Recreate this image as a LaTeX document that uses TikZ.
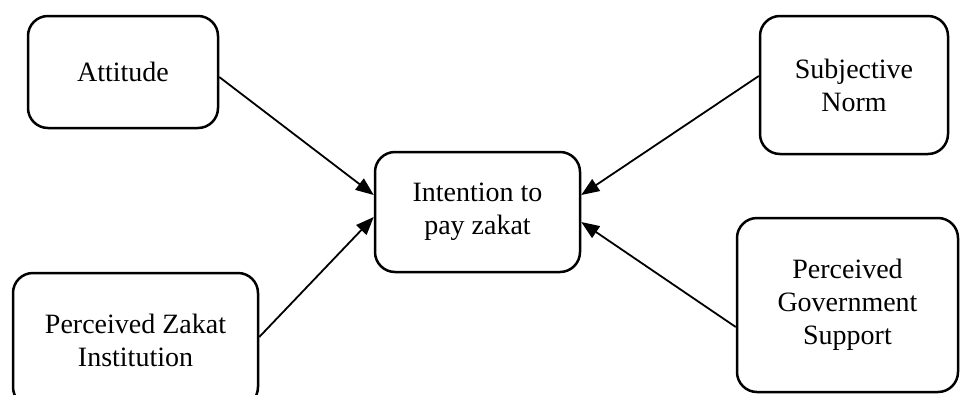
\documentclass[tikz,border=0pt]{standalone}
\usepackage{fontspec}
\setmainfont{Liberation Serif}
\usetikzlibrary{arrows.meta,calc}
\tikzset{
  box/.style={draw, line width=2.5pt, rounded corners=20pt, align=center,
    inner sep=0pt, font=\fontsize{28}{33}\selectfont},
  arr/.style={line width=1.8pt, -{Triangle[length=18pt,width=14pt]}}
}
\begin{document}
\begin{tikzpicture}[x=1pt,y=1pt]
\useasboundingbox (0,0) rectangle (960,-394);
\node[box, minimum width=190pt, minimum height=112pt] (att) at (123,-72) {Attitude};
\node[box, minimum width=188pt, minimum height=138pt] (sn) at (854,-85) {Subjective\\Norm};
\node[box, minimum width=205pt, minimum height=120pt] (int) at (477.5,-212) {Intention to\\pay zakat};
\node[box, minimum width=245pt, minimum height=134pt] (pzi) at (135.5,-340) {Perceived Zakat\\Institution};
\node[box, minimum width=221pt, minimum height=174pt] (pgs) at (847.5,-305) {Perceived\\Government\\Support};
\draw[arr] ([yshift=-5pt]att.east) -- ([yshift=17pt]int.west);
\draw[arr] ([yshift=3pt]pzi.east) -- ([yshift=-5pt]int.west);
\draw[arr] ([yshift=9pt]sn.west) -- ([yshift=17pt]int.east);
\draw[arr] ([yshift=-22pt]pgs.west) -- ([yshift=-10pt]int.east);
\end{tikzpicture}
\end{document}
